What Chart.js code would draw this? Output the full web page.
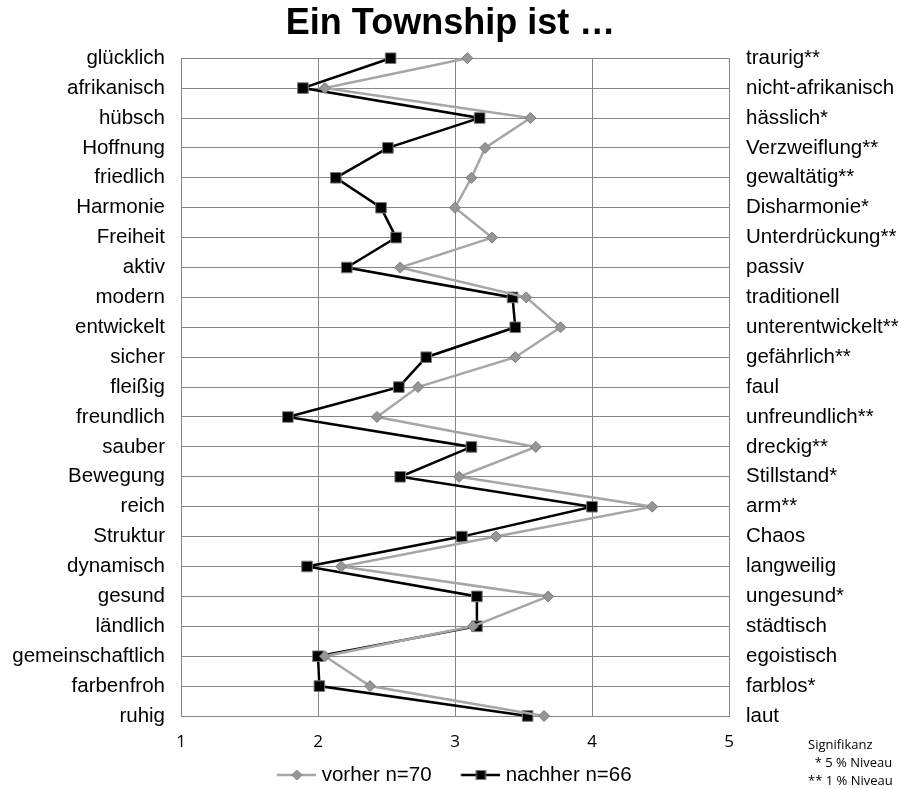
<!DOCTYPE html>
<html>
<head>
<meta charset="utf-8">
<script src="https://cdn.jsdelivr.net/npm/chart.js@4.4.1/dist/chart.umd.min.js"></script>
<style>
html,body{margin:0;padding:0;background:#fff;}
#wrap{width:901px;height:789px;position:relative;}
</style>
</head>
<body>
<div id="wrap"><canvas id="c" width="901" height="789"></canvas></div>
<script>
const leftLabels = ["glücklich","afrikanisch","hübsch","Hoffnung","friedlich","Harmonie","Freiheit","aktiv","modern","entwickelt","sicher","fleißig","freundlich","sauber","Bewegung","reich","Struktur","dynamisch","gesund","ländlich","gemeinschaftlich","farbenfroh","ruhig"];
const rightLabels = ["traurig**","nicht-afrikanisch","hässlich*","Verzweiflung**","gewaltätig**","Disharmonie*","Unterdrückung**","passiv","traditionell","unterentwickelt**","gefährlich**","faul","unfreundlich**","dreckig**","Stillstand*","arm**","Chaos","langweilig","ungesund*","städtisch","egoistisch","farblos*","laut"];
const vorher = [3.09,2.05,3.55,3.22,3.12,3.00,3.27,2.60,3.52,3.77,3.44,2.73,2.43,3.59,3.03,4.44,3.30,2.17,3.68,3.13,2.05,2.38,3.65];
const nachher = [2.53,1.89,3.18,2.51,2.13,2.46,2.57,2.21,3.42,3.44,2.79,2.59,1.78,3.12,2.60,4.00,3.05,1.92,3.16,3.16,2.00,2.01,3.53];
const xTicks = [1,2,3,4,5];
const seriesNames = ["vorher n=70","nachher n=66"];
const chartTitle = "Ein Township ist …";
const noteLines = ["Signifikanz","  * 5 % Niveau","** 1 % Niveau"];

const P = 33;            // legend icon slot width
const C = P + 10.5;      // icon canvas width
function legendIcon(type){
  const c = document.createElement('canvas');
  c.width = C; c.height = 14;
  const g = c.getContext('2d');
  const x0 = C - 40, x1 = C, xm = (x0 + x1) / 2;
  g.lineWidth = 2.5;
  g.strokeStyle = type === 'v' ? '#a6a6a6' : '#000000';
  g.beginPath(); g.moveTo(x0,7); g.lineTo(x1,7); g.stroke();
  g.lineWidth = 1;
  if (type === 'v') {
    g.fillStyle = '#969696'; g.strokeStyle = '#7a7a7a';
    g.beginPath(); g.moveTo(xm-5,7); g.lineTo(xm,2); g.lineTo(xm+5,7); g.lineTo(xm,12); g.closePath(); g.fill(); g.stroke();
  } else {
    g.fillStyle = '#000'; g.strokeStyle = '#7a7a7a';
    g.fillRect(xm-5,2,10,10); g.strokeRect(xm-4.5,2.5,9,9);
  }
  return c;
}
const icons = [legendIcon('v'), legendIcon('n')];

Chart.defaults.font.family = "'Liberation Sans', Arial, sans-serif";
Chart.defaults.color = '#000';

const notesPlugin = {
  id: 'notes',
  afterInit(chart){
    const lg = chart.legend;
    if (lg) {
      const f = lg.fit;
      lg.fit = function(){ f.call(this); this.height = 33; };
    }
  },
  afterLayout(chart){
    const lg = chart.legend;
    if (lg) { lg.top = 734; lg.bottom = 789; lg.height = 55; }
  },
  afterDraw(chart){
    const ctx = chart.ctx;
    ctx.save();
    ctx.font = "13px 'Open Sans', 'Liberation Sans', sans-serif";
    ctx.fillStyle = '#000';
    ctx.textBaseline = 'middle';
    ctx.textAlign = 'left';
    const ys = [745, 763, 781];
    noteLines.forEach((t,i)=>{ ctx.fillText(t, 808, ys[i]); });
    ctx.restore();
  }
};

new Chart(document.getElementById('c'), {
  type: 'line',
  data: {
    labels: leftLabels,
    datasets: [
      { label: seriesNames[0], data: vorher, yAxisID: 'y', borderColor: '#a6a6a6', borderWidth: 2.5,
        pointStyle: 'rectRot', pointRadius: 5.5, pointBackgroundColor: '#969696', pointBorderColor: '#7a7a7a', pointBorderWidth: 1, tension: 0 },
      { label: seriesNames[1], data: nachher, yAxisID: 'y', borderColor: '#000000', borderWidth: 2.5,
        pointStyle: 'rect', pointRadius: 7.5, pointBackgroundColor: '#000000', pointBorderColor: '#7a7a7a', pointBorderWidth: 1, tension: 0 }
    ]
  },
  options: {
    indexAxis: 'y',
    responsive: false,
    animation: false,
    layout: { padding: { left: 0, right: 0, top: 0, bottom: 0 } },
    scales: {
      x: {
        type: 'linear', min: 1, max: 5,
        afterBuildTicks: s => { s.ticks = xTicks.map(v => ({value: v})); },
        grid: { color: '#868686', lineWidth: 1, drawTicks: false },
        border: { display: true, color: '#868686' },
        ticks: { padding: 16, font: { size: 17, family: "'Open Sans', 'Liberation Sans', sans-serif" } },
        afterFit: s => { s.height = 40; }
      },
      y: {
        type: 'category', position: 'left', offset: false,
        grid: { color: '#868686', lineWidth: 1, drawTicks: false },
        border: { display: true, color: '#868686' },
        ticks: { padding: 16, font: { size: 20.5 }, autoSkip: false },
        afterFit: s => { s.width = 181; }
      },
      y2: {
        type: 'category', position: 'right', offset: false,
        labels: rightLabels,
        grid: { display: false, drawTicks: false },
        border: { display: false },
        ticks: { padding: 17, font: { size: 20.5 }, autoSkip: false },
        afterFit: s => { s.width = 172; }
      }
    },
    plugins: {
      title: { display: true, text: chartTitle, font: { size: 36, weight: 'bold' }, color: '#000', padding: { top: 2, bottom: 13 } },
      legend: {
        position: 'bottom', fullSize: false,
        labels: {
          usePointStyle: true, pointStyleWidth: P, padding: 30.75,
          font: { size: 20.5 }, color: '#000',
          generateLabels: chart => chart.data.datasets.map((d,i) => ({
            text: d.label, pointStyle: icons[i], fillStyle: 'transparent', strokeStyle: 'transparent', lineWidth: 0, datasetIndex: i, hidden: false
          }))
        }
      },
      tooltip: { enabled: false }
    }
  },
  plugins: [notesPlugin]
});
</script>
</body>
</html>
